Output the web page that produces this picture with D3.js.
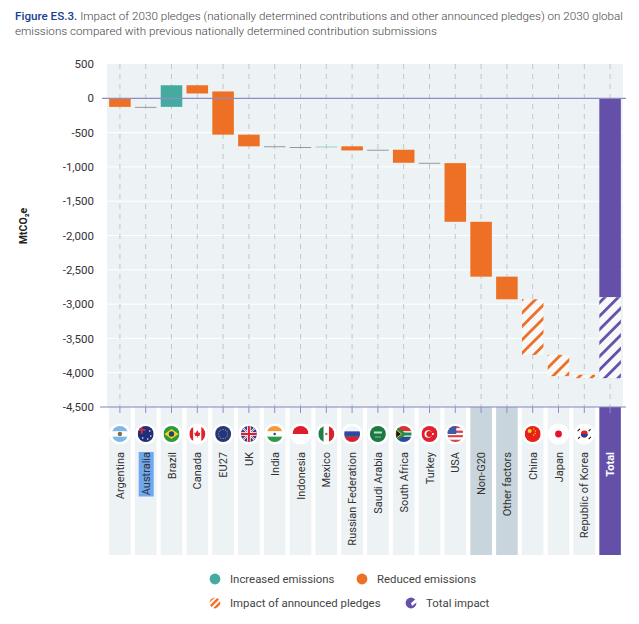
<!DOCTYPE html>
<html>
<head>
<meta charset="utf-8">
<script src="https://cdn.jsdelivr.net/npm/d3@7"></script>
<style>
  body { margin: 0; background: #fff; }
  svg { display: block; }
  text { font-family: Roboto, sans-serif; fill: #333; }
</style>
</head>
<body>
<div id="chart"></div>
<script>
// categories and waterfall values (MtCO2e)
const categories = ['Argentina','Australia','Brazil','Canada','EU27','UK','India','Indonesia','Mexico',
  'Russian Federation','Saudi Arabia','South Africa','Turkey','USA','Non-G20','Other factors','China','Japan','Republic of Korea','Total'];
const startValues = [0,-125,-125,190,100,-530,-700,-710,-710,-700,-750,-750,-940,-945,-1800,-2600,-2930,-3740,-4030,0];
const endValues = [-125,-130,190,70,-530,-700,-707,-715,-703,-760,-755,-940,-945,-1800,-2600,-2930,-3740,-4050,-4080,-2900];
const barKinds = ['reduced','reduced','increased','reduced','reduced','reduced','reduced','reduced','increased',
  'reduced','reduced','reduced','reduced','reduced','reduced','reduced','pledged','pledged','pledged','total'];
const totalPledgedFrom = -2900;
const totalPledgedTo = -4080;
const yTicks = [500,0,-500,-1000,-1500,-2000,-2500,-3000,-3500,-4000,-4500];
const legendRows = [
  [{label:'Increased emissions', kind:'increased'}, {label:'Reduced emissions', kind:'reduced'}],
  [{label:'Impact of announced pledges', kind:'pledged'}, {label:'Total impact', kind:'total'}]
];

const width = 639, height = 624;
const plotTop = 64, plotBottom = 407, stripBottom = 555;
const teal = '#45aba0', orange = '#ed7024', purple = '#6450a8';
const barFill = {increased: teal, reduced: orange, pledged: 'url(#hatch-orange)', total: purple};

const svg = d3.select('#chart').append('svg').attr('width', width).attr('height', height);
const defs = svg.append('defs');

function hatch(id, color) {
  const p = defs.append('pattern').attr('id', id).attr('patternUnits', 'userSpaceOnUse')
    .attr('width', 9.5).attr('height', 9.5).attr('patternTransform', 'rotate(-45)');
  p.append('rect').attr('width', 9.5).attr('height', 9.5).attr('fill', '#f6f8fa');
  p.append('rect').attr('width', 9.5).attr('height', 2.8).attr('fill', color);
}
hatch('hatch-orange', orange);
hatch('hatch-purple', purple);

const x = d3.scaleBand().domain(categories).range([107, 623]).paddingInner(0.165).paddingOuter(0.0825);
const y = d3.scaleLinear().domain([500, -4500]).range([plotTop, plotBottom]);

// title
const title = svg.append('text').attr('x', 15).attr('y', 20).style('font-size', '11.65px').style('font-weight', 300);
title.append('tspan').style('font-weight', 500).style('fill', '#1d3f8f').text('Figure ES.3.');
title.append('tspan').style('fill', '#444').text(' Impact of 2030 pledges (nationally determined contributions and other announced pledges) on 2030 global');
svg.append('text').attr('x', 15).attr('y', 35).style('font-size', '11.65px').style('font-weight', 300).style('fill', '#444')
  .text('emissions compared with previous nationally determined contribution submissions');

// plot background and grid
svg.append('rect').attr('x', 107).attr('y', plotTop).attr('width', 516).attr('height', plotBottom - plotTop).attr('fill', '#edf2f5');
svg.append('g').selectAll('line').data(yTicks.filter(d => d !== 0 && d !== 500 && d !== -4500)).join('line')
  .attr('x1', 107).attr('x2', 623).attr('y1', d => y(d)).attr('y2', d => y(d))
  .attr('stroke', '#fff').attr('stroke-width', 1);
svg.append('g').selectAll('line').data(categories).join('line')
  .attr('x1', d => x(d) + x.bandwidth() / 2).attr('x2', d => x(d) + x.bandwidth() / 2)
  .attr('y1', plotTop).attr('y2', plotBottom)
  .attr('stroke', '#b4bcc2').attr('stroke-width', 0.8).attr('stroke-dasharray', '5 5');

// strips under the plot
svg.append('g').selectAll('rect').data(categories).join('rect')
  .attr('x', d => x(d)).attr('y', plotBottom).attr('width', x.bandwidth()).attr('height', stripBottom - plotBottom)
  .attr('fill', d => d === 'Total' ? purple : (d === 'Non-G20' || d === 'Other factors') ? '#c8d5dc' : '#edf2f5');

// bars
svg.append('g').selectAll('rect').data(categories).join('rect')
  .attr('x', d => x(d))
  .attr('y', (d, i) => y(Math.max(startValues[i], endValues[i])))
  .attr('width', x.bandwidth())
  .attr('height', (d, i) => Math.max(0.9, Math.abs(y(startValues[i]) - y(endValues[i]))))
  .attr('fill', (d, i) => Math.abs(startValues[i] - endValues[i]) < 20 ? (barKinds[i] === 'increased' ? '#8fcfc5' : '#8a8f93') : barFill[barKinds[i]]);
svg.append('rect').attr('x', x('Total')).attr('y', y(totalPledgedFrom)).attr('width', x.bandwidth())
  .attr('height', y(totalPledgedTo) - y(totalPledgedFrom)).attr('fill', 'url(#hatch-purple)');

// zero line, bottom axis
svg.append('line').attr('x1', 102).attr('x2', 626).attr('y1', y(0)).attr('y2', y(0)).attr('stroke', '#8f8cc6').attr('stroke-width', 1.2);
svg.append('line').attr('x1', 100).attr('x2', 626).attr('y1', plotBottom).attr('y2', plotBottom).attr('stroke', '#8582bd').attr('stroke-width', 1);
svg.append('g').selectAll('line').data(categories).join('line')
  .attr('x1', d => x(d) + x.bandwidth() / 2).attr('x2', d => x(d) + x.bandwidth() / 2)
  .attr('y1', plotBottom).attr('y2', plotBottom + 6)
  .attr('stroke', '#8f8cc6').attr('stroke-width', 1);

// y axis labels
const fmt = d3.format(',');
const axis = svg.append('g').attr('transform', 'translate(94,0)')
  .call(d3.axisLeft(y).tickValues(yTicks).tickSize(0).tickPadding(0).tickFormat(d => fmt(d).replace('\u2212', '-')));
axis.select('.domain').remove();
axis.selectAll('text').style('font-family', 'Roboto, sans-serif').style('font-size', '11.5px').style('fill', '#333');
svg.append('text').attr('transform', 'translate(27,226) rotate(-90)').attr('text-anchor', 'middle')
  .style('font-size', '10.5px').style('font-weight', 700).style('fill', '#222').text('MtCO\u2082e');

// flags
const flagY = 434, flagR = 8;
function stripes(g, colors, vertical) {
  const n = colors.length, s = flagR * 2 / n;
  colors.forEach((c, i) => {
    const r = g.append('rect').attr('fill', c);
    if (vertical) r.attr('x', -flagR + i * s).attr('y', -flagR).attr('width', s + 0.2).attr('height', flagR * 2);
    else r.attr('x', -flagR).attr('y', -flagR + i * s).attr('width', flagR * 2).attr('height', s + 0.2);
  });
}
function dot(g, cx, cy, r, c) { g.append('circle').attr('cx', cx).attr('cy', cy).attr('r', r).attr('fill', c); }
function bar(g, a, b, w, c) { g.append('line').attr('x1', a[0]).attr('y1', a[1]).attr('x2', b[0]).attr('y2', b[1]).attr('stroke', c).attr('stroke-width', w); }
const flags = {
  'Argentina': g => { stripes(g, ['#7db9e8','#fff','#7db9e8']); dot(g, 0, 0, 2.2, '#8a6a3c'); },
  'Australia': g => { stripes(g, ['#1f2f7a']); bar(g,[-8,-4],[0,-4],1.6,'#e03040'); bar(g,[-4,-8],[-4,0],1.6,'#e03040'); [[4,-3],[5,2],[2,5],[-3,4]].forEach(p => dot(g,p[0],p[1],.8,'#fff')); },
  'Brazil': g => { stripes(g, ['#2a9b3d']); g.append('path').attr('d','M-7,0L0,-5L7,0L0,5Z').attr('fill','#f6d517'); dot(g,0,0,2.7,'#23407f'); },
  'Canada': g => { stripes(g, ['#e0202c','#fff','#fff','#e0202c'], true); g.append('path').attr('d','M0,-4L1.5,-1L3,-1.5L2.2,2L.4,2L.4,3.5L-.4,3.5L-.4,2L-2.2,2L-3,-1.5L-1.5,-1Z').attr('fill','#e0202c'); },
  'EU27': g => { stripes(g, ['#23357f']); d3.range(12).forEach(i => dot(g, 4.6*Math.cos(i*Math.PI/6), 4.6*Math.sin(i*Math.PI/6), .5, '#e8cf3a')); },
  'UK': g => { stripes(g, ['#2a3f8f']); bar(g,[-8,-8],[8,8],2,'#fff'); bar(g,[-8,8],[8,-8],2,'#fff'); bar(g,[-8,-8],[8,8],.8,'#d8202f'); bar(g,[-8,8],[8,-8],.8,'#d8202f'); bar(g,[-8,0],[8,0],3.6,'#fff'); bar(g,[0,-8],[0,8],3.6,'#fff'); bar(g,[-8,0],[8,0],2,'#d8202f'); bar(g,[0,-8],[0,8],2,'#d8202f'); },
  'India': g => { stripes(g, ['#f39a3c','#fff','#2d9a46']); dot(g,0,0,1.3,'#3a4a90'); },
  'Indonesia': g => stripes(g, ['#e01c2c','#fff']),
  'Mexico': g => { stripes(g, ['#1d7f45','#fff','#d8202f'], true); dot(g,0,0,1.3,'#9a7a40'); },
  'Russian Federation': g => stripes(g, ['#f4f4f4','#2c4aa0','#d8202f']),
  'Saudi Arabia': g => { stripes(g, ['#1a7a40']); bar(g,[-4,-1.5],[4,-1.5],2,'#bfe0c8'); bar(g,[-3,3],[3,3],.7,'#bfe0c8'); },
  'South Africa': g => { stripes(g, ['#d8342c','#fff','#2a4a9a']); g.append('path').attr('d','M-8,-8L1,-1.5L8,-1.5L8,1.5L1,1.5L-8,8Z').attr('fill','#1d8a50'); g.append('path').attr('d','M-8,-4.5L-2,0L-8,4.5Z').attr('fill','#1a1a1a').attr('stroke','#f2c530').attr('stroke-width',1); },
  'Turkey': g => { stripes(g, ['#e0202c']); dot(g,-1.2,0,3.8,'#fff'); dot(g,-.2,0,3,'#e0202c'); dot(g,3.4,0,1,'#fff'); },
  'USA': g => { stripes(g, ['#d8404a','#fff','#d8404a','#fff','#d8404a','#fff','#d8404a']); g.append('rect').attr('x',-8).attr('y',-8).attr('width',9).attr('height',8).attr('fill','#3f5aa8'); },
  'China': g => { stripes(g, ['#e8201c']); dot(g,-3,-3,2,'#f7d81e'); [[1,-5],[2.6,-3],[2.6,-.6],[1,1]].forEach(p => dot(g,p[0],p[1],.7,'#f7d81e')); },
  'Japan': g => { stripes(g, ['#fff']); dot(g,0,0,3.4,'#e8102c'); },
  'Republic of Korea': g => { stripes(g, ['#fff']); dot(g,0,0,3.4,'#d8202f'); g.append('path').attr('d','M-3.4,0A3.4,3.4 0 0 0 3.4,0Z').attr('fill','#23408f'); [[-5.5,-4],[5.5,-4],[-5.5,4],[5.5,4]].forEach(p => bar(g,[p[0]-1.2,p[1]+1.2],[p[0]+1.2,p[1]-1.2],1.2,'#222')); }
};
categories.forEach((c, i) => {
  if (!flags[c]) return;
  const cx = x(c) + x.bandwidth() / 2;
  svg.append('circle').attr('cx', cx).attr('cy', flagY).attr('r', flagR + 2.6).attr('fill', '#fff');
  const clipId = 'flag-' + i;
  defs.append('clipPath').attr('id', clipId).append('circle').attr('r', flagR);
  const g = svg.append('g').attr('transform', `translate(${cx},${flagY})`).attr('clip-path', `url(#${clipId})`);
  flags[c](g);
});

// category labels
const labelTop = 452;
const ausLength = 44.5;
svg.append('rect').attr('x', x('Australia') + x.bandwidth() / 2 - 7).attr('y', labelTop).attr('width', 15).attr('height', ausLength).attr('fill', '#6fa8ee');
svg.append('g').selectAll('text').data(categories).join('text')
  .attr('transform', d => `translate(${x(d) + x.bandwidth() / 2 + 4},${labelTop}) rotate(-90)`)
  .attr('text-anchor', 'end')
  .style('font-size', '11px')
  .style('font-weight', d => d === 'Total' ? 700 : 400)
  .style('fill', d => d === 'Total' ? '#fff' : '#333')
  .text(d => d);

// legend
const legendPos = [[{cx:215,tx:230},{cx:362,tx:377}],[{cx:215,tx:230},{cx:411,tx:426}]];
const legendY = [579, 603];
defs.append('pattern').attr('id','legend-orange').attr('patternUnits','userSpaceOnUse').attr('width',4.4).attr('height',4.4).attr('patternTransform','rotate(-45)')
  .call(p => { p.append('rect').attr('width',4.4).attr('height',4.4).attr('fill','#fff'); p.append('rect').attr('width',4.4).attr('height',2.4).attr('fill',orange); });
legendRows.forEach((row, r) => row.forEach((item, k) => {
  const pos = legendPos[r][k];
  const c = svg.append('circle').attr('cx', pos.cx).attr('cy', legendY[r]).attr('r', 5.4);
  if (item.kind === 'pledged') c.attr('fill', 'url(#legend-orange)');
  else c.attr('fill', barFill[item.kind]);
  if (item.kind === 'total') {
    svg.append('path').attr('d', `M${pos.cx},${legendY[r]}L${pos.cx + 6},${legendY[r] - 5}L${pos.cx + 6},${legendY[r] - 1}L${pos.cx + 1},${legendY[r] + 3}Z`).attr('fill', '#fff');
  }
  svg.append('text').attr('x', pos.tx).attr('y', legendY[r] + 4).style('font-size', '11.4px').style('fill', '#444').text(item.label);
}));
</script>
</body>
</html>
